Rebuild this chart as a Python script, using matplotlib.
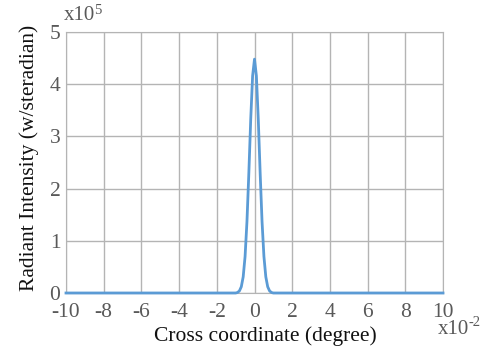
import matplotlib
matplotlib.use("Agg")
import matplotlib.pyplot as plt

# values (x in 1e-2 degree, y in 1e5 W/sr)
x_vals = [-10, -1.0, -0.9, -0.8, -0.7, -0.6, -0.5, -0.4, -0.3, -0.2, -0.1, 0.0,
          0.1, 0.2, 0.3, 0.4, 0.5, 0.6, 0.7, 0.8, 0.9, 1.0, 10]
y_vals = [0, 0.0, 0.01, 0.04, 0.12, 0.31, 0.70, 1.37, 2.30, 3.33, 4.16, 4.48,
          4.16, 3.33, 2.30, 1.37, 0.70, 0.31, 0.12, 0.04, 0.01, 0.0, 0]
x_ticks = [-10, -8, -6, -4, -2, 0, 2, 4, 6, 8, 10]
y_ticks = [0, 1, 2, 3, 4, 5]

plt.rcParams['font.family'] = ['Liberation Serif', 'DejaVu Serif']
plt.rcParams['axes.unicode_minus'] = False
fig = plt.figure(figsize=(4.82, 3.51), dpi=100)
ax = fig.add_axes([66/482, 58/351, 377/482, 261/351])
ax.plot(x_vals, y_vals, color='#5B9BD5', lw=2.0, zorder=3, clip_on=False)
ax.set_xlim(-10, 10)
ax.set_ylim(0, 5)
ax.set_xticks(x_ticks)
ax.set_yticks(y_ticks)
ax.grid(True, color='#b4b4b4', lw=1.0)
for s in ax.spines.values():
    s.set_color('#b4b4b4')
ax.tick_params(length=0, labelsize=15.5, labelcolor='#595959')
ax.tick_params(axis='x', pad=7)
ax.tick_params(axis='y', pad=4)
fig.text(265/482, 1 - 336/351, 'Cross coordinate (degree)', fontsize=15.5,
         color='#111111', ha='center', va='center')
fig.text(29/482, 1 - 158/351, 'Radiant Intensity (w/steradian)', fontsize=15.5,
         color='#111111', ha='center', va='center', rotation=90)
# multiplier labels
fig.text(64/482, 1 - 16/351, 'x10', fontsize=15, color='#595959', va='center', ha='left')
fig.text(94.5/482, 1 - 10/351, '5', fontsize=10.5, color='#595959', va='center', ha='left')
fig.text(438/482, 1 - 329/351, 'x10', fontsize=15, color='#595959', va='center', ha='left')
fig.text(468.5/482, 1 - 323/351, '-2', fontsize=10.5, color='#595959', va='center', ha='left')
fig.savefig('out.png', dpi=100)
